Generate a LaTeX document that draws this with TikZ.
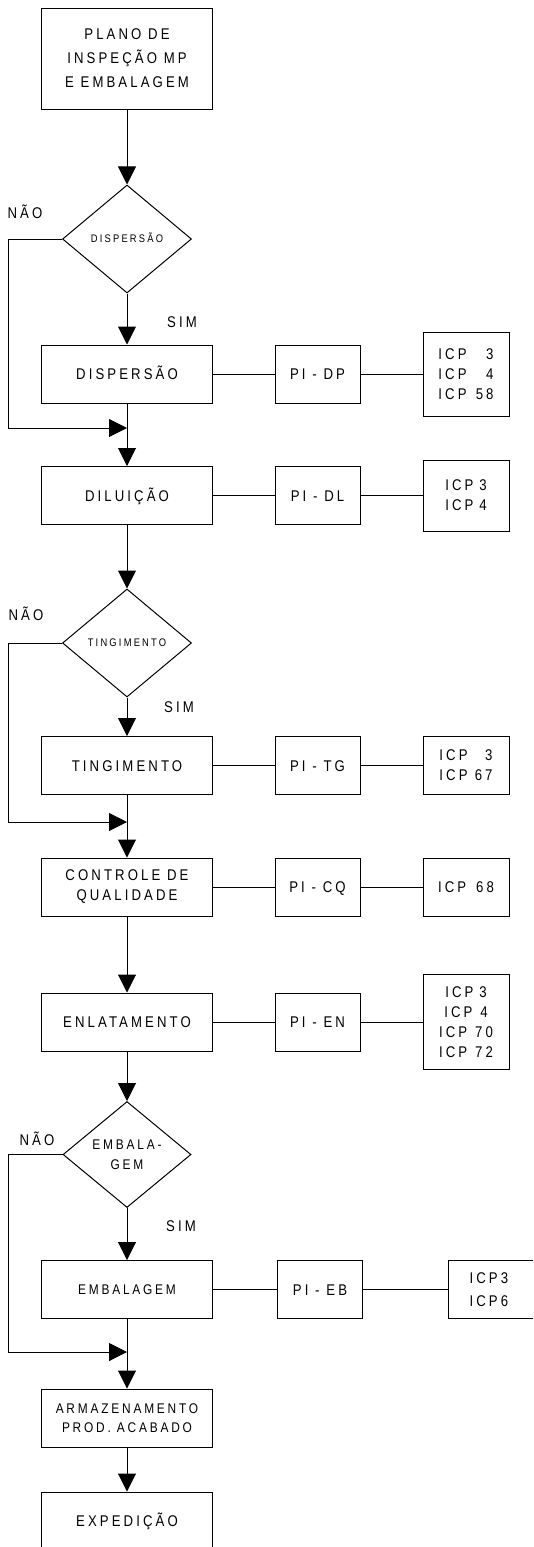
\documentclass[tikz,border=0pt]{standalone}
\usepackage{fontspec}
\setmainfont[FakeStretch=0.85,LetterSpace=20]{Liberation Sans}
\usetikzlibrary{shapes.geometric,arrows.meta}
\begin{document}
\begin{tikzpicture}[x=1pt,y=-1pt,
  box/.style={draw, line width=1pt, minimum width=171pt, minimum height=58pt,
    inner sep=0pt, align=center, font=\fontsize{15.5}{20}\selectfont},
  one/.style={text height=11.1pt, text depth=0pt},
  pibox/.style={box, minimum width=85pt},
  icpbox/.style={box, minimum width=86pt},
  dec/.style={diamond, draw, line width=1pt, minimum width=129pt, minimum height=108pt,
    inner sep=0pt, align=center, font=\fontsize{11}{14}\selectfont},
  lbl/.style={inner sep=0pt, font=\fontsize{15.5}{20}\selectfont, text height=11.1pt, text depth=0pt},
  arr/.style={line width=1pt, -{Triangle[length=18pt,width=18pt]}},
  ln/.style={line width=1pt}]
\useasboundingbox (0,0) rectangle (533,1547);
\clip (0,0) rectangle (533,1547);

% main column
\node[box, minimum height=101pt, font=\fontsize{15.5}{24}\selectfont] (top) at (127,58.5) {PLANO DE\\INSPEÇÃO MP\\E EMBALAGEM};
\node[dec, text height=7.9pt, text depth=0pt] (d1) at (127,239) {DISPERSÃO};
\node[box,one] (dp) at (127,374) {DISPERSÃO};
\node[pibox,one] (pidp) at (317.5,374) {PI - DP};
\node[icpbox, minimum height=84pt] (icp1) at (466,374) {ICP\makebox[27pt][r]{3}\\ICP\makebox[27pt][r]{4}\\ICP\makebox[27pt][r]{58}};

\node[box,one] (dl) at (127,495.5) {DILUIÇÃO};
\node[pibox,one] (pidl) at (317.5,495.5) {PI - DL};
\node[icpbox, minimum height=71pt] (icp2) at (466,495.5) {ICP\hspace{6pt}3\\ICP\hspace{6pt}4};

\node[dec, text height=7.9pt, text depth=0pt] (d2) at (127,643) {TINGIMENTO};
\node[box,one] (tg) at (127,765.5) {TINGIMENTO};
\node[pibox,one] (pitg) at (317.5,765.5) {PI - TG};
\node[icpbox] (icp3) at (466,765.5) {ICP\makebox[25pt][r]{3}\\ICP\makebox[25pt][r]{67}};

\node[box] (cq) at (127,887) {CONTROLE DE\\QUALIDADE};
\node[pibox,one] (picq) at (317.5,887) {PI - CQ};
\node[icpbox,one] (icp68) at (466,887) {ICP\hspace{10pt}68};

\node[box,one] (en) at (127,1022) {ENLATAMENTO};
\node[pibox,one] (pien) at (317.5,1022) {PI - EN};
\node[icpbox, minimum height=95pt] (icp4) at (466,1022) {ICP\hspace{6pt}3\\ICP\hspace{8pt}4\\ICP\hspace{8pt}70\\ICP\hspace{8pt}72};

\node[dec, minimum width=128pt, minimum height=106pt, font=\fontsize{14}{20}\selectfont] (d3) at (127,1154.5) {EMBALA-\\GEM};
\node[box,one, font=\fontsize{14}{20}\selectfont, text height=10pt] (eb) at (127,1289.5) {EMBALAGEM};
\node[pibox,one] (pieb) at (320,1289.5) {PI - EB};
\node[icpbox, anchor=west, minimum width=95pt, text width=53pt, inner xsep=21pt, align=left, font=\fontsize{15.5}{23}\selectfont] (icp5) at (448,1289.5) {ICP3\\ICP6};

\node[box, font=\fontsize{14}{19}\selectfont] (ar) at (127,1418) {ARMAZENAMENTO\\PROD. ACABADO};
\node[box,one] (ex) at (127,1521) {EXPEDIÇÃO};

% labels
\node[lbl] (nao1) at (25,213) {NÃO};
\node[lbl] (sim1) at (182,322) {SIM};
\node[lbl] (nao2) at (26,615) {NÃO};
\node[lbl] (sim2) at (179,707) {SIM};
\node[lbl] (nao3) at (37,1140) {NÃO};
\node[lbl] (sim3) at (181,1226) {SIM};

% bypass coordinates
\coordinate (l1) at (8.5,428);  \coordinate (b1) at (127,428);
\coordinate (l2) at (8.5,822);  \coordinate (b2) at (127,822);
\coordinate (l3) at (8.5,1352); \coordinate (b3) at (127,1352);

% main flow
\draw[arr] (top) -- (d1);
\draw[arr] (d1) -- (dp);
\draw[arr] (dp) -- (dl);
\draw[arr] (dl) -- (d2);
\draw[arr] (d2) -- (tg);
\draw[arr] (tg) -- (cq);
\draw[arr] (cq) -- (en);
\draw[arr] (en) -- (d3);
\draw[arr] (d3) -- (eb);
\draw[arr] (eb) -- (ar);
\draw[arr] (ar) -- (ex);

% bypasses
\draw[arr] (d1.west) -| (l1) -- (b1);
\draw[arr] (d2.west) -| (l2) -- (b2);
\draw[arr] (d3.west) -| (l3) -- (b3);

% side links
\draw[ln] (dp) -- (pidp) -- (icp1);
\draw[ln] (dl) -- (pidl) -- (icp2);
\draw[ln] (tg) -- (pitg) -- (icp3);
\draw[ln] (cq) -- (picq) -- (icp68);
\draw[ln] (en) -- (pien) -- (icp4);
\draw[ln] (eb) -- (pieb) -- (icp5);
\end{tikzpicture}
\end{document}
